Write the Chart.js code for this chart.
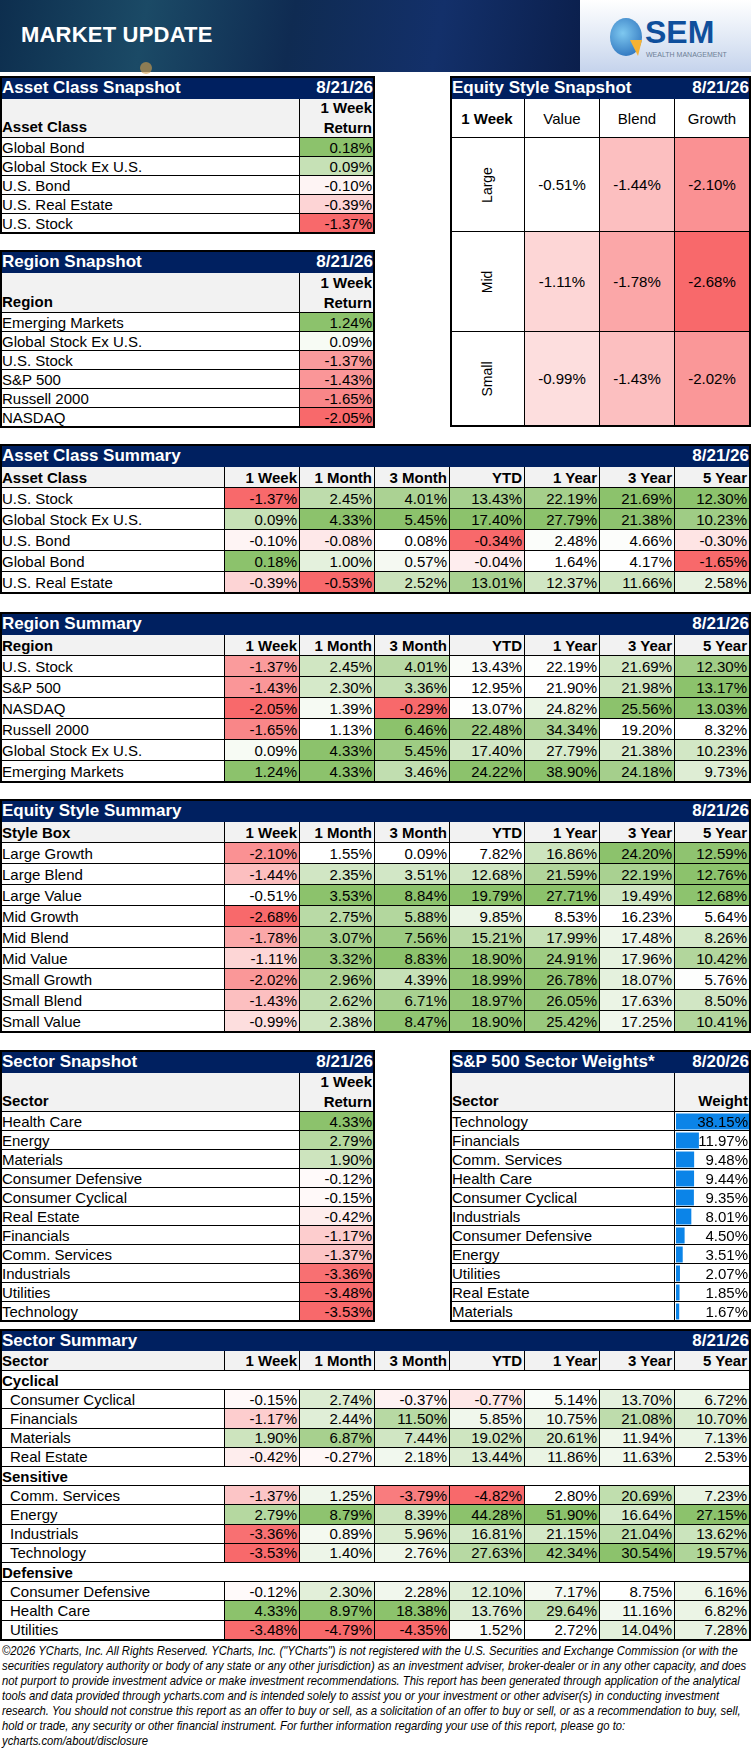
<!DOCTYPE html>
<html>
<head>
<meta charset="utf-8">
<script src="https://cdn.jsdelivr.net/npm/chart.js@4"></script>
<style>
  body { margin:0; width:751px; height:1754px; background:#fff; position:relative; overflow:hidden;
         font-family:"Liberation Sans Narrow","Arial Narrow","Liberation Sans",sans-serif; }
  .c { position:absolute; box-sizing:border-box; font-size:15px; line-height:1; white-space:nowrap;
       display:flex; align-items:center; padding:0 2px; color:#000; overflow:hidden; }
  .r { justify-content:flex-end; }
  .m { justify-content:center; }
  .t { background:#002060; color:#fff; font-weight:bold; font-size:17px; }
  .h { background:#f2f2f2; font-weight:bold; }
  #banner { position:absolute; left:0; top:0; width:580px; height:72px;
            background:linear-gradient(100deg,#0d2e4e 0%,#1b4a66 25%,#0f2b52 50%,#13306a 75%,#0b1f4c 100%); }
  #logo { position:absolute; left:580px; top:0; width:171px; height:72px;
          background:linear-gradient(180deg,#ffffff 0%,#dde6f4 60%,#c5d3ec 100%); }
  #foot { position:absolute; left:2px; top:1643px; transform-origin:0 0; font-size:13.3px; line-height:15px; font-style:italic; color:#000; white-space:nowrap; }
</style>
</head>
<body>
<div id="banner">
  <div style="position:absolute;left:21px;top:22px;color:#fff;font-weight:bold;font-size:22px;letter-spacing:0.2px">MARKET UPDATE</div>
  <div style="position:absolute;left:140px;top:62px;width:12px;height:12px;border-radius:6px;background:#d9a04a;opacity:.6"></div>
</div>
<div id="logo">
  <div style="position:absolute;left:30px;top:18px;width:32px;height:38px;border-radius:50%;background:radial-gradient(circle at 40% 40%,#7ec8f0,#1f64b4)"></div>
  <div style="position:absolute;left:50px;top:40px;width:0;height:0;border-left:8px solid transparent;border-right:4px solid transparent;border-top:16px solid #f6b233"></div>
  <div style="position:absolute;left:65px;top:14px;color:#0f4f9c;font-weight:bold;font-size:32px;font-family:'Liberation Sans',sans-serif">SEM</div>
  <div style="position:absolute;left:66px;top:51px;color:#6d7f96;font-size:7px;font-family:'Liberation Sans',sans-serif">WEALTH MANAGEMENT</div>
</div>

<canvas id="weights" width="73" height="209" style="position:absolute;left:676px;top:1112px;width:73px;height:209px"></canvas>

<div id="foot">©2026 YCharts, Inc. All Rights Reserved. YCharts, Inc. ("YCharts") is not registered with the U.S. Securities and Exchange Commission (or with the<br>securities regulatory authority or body of any state or any other jurisdiction) as an investment adviser, broker-dealer or in any other capacity, and does<br>not purport to provide investment advice or make investment recommendations. This report has been generated through application of the analytical<br>tools and data provided through ycharts.com and is intended solely to assist you or your investment or other adviser(s) in conducting investment<br>research. You should not construe this report as an offer to buy or sell, as a solicitation of an offer to buy or sell, or as a recommendation to buy, sell,<br>hold or trade, any security or other financial instrument. For further information regarding your use of this report, please go to:<br>ycharts.com/about/disclosure</div>

<script>
const periods = ["1 Week", "1 Month", "3 Month", "YTD", "1 Year", "3 Year", "5 Year"];

const assetSnapNames = ["Global Bond", "Global Stock Ex U.S.", "U.S. Bond", "U.S. Real Estate", "U.S. Stock"];
const assetSnapVals = [0.18, 0.09, -0.10, -0.39, -1.37];

const regionSnapNames = ["Emerging Markets", "Global Stock Ex U.S.", "U.S. Stock", "S&P 500", "Russell 2000", "NASDAQ"];
const regionSnapVals = [1.24, 0.09, -1.37, -1.43, -1.65, -2.05];

const styleSizes = ["Large", "Mid", "Small"];
const styleTypes = ["Value", "Blend", "Growth"];
const styleSnapVals = [
  [-0.51, -1.44, -2.10],
  [-1.11, -1.78, -2.68],
  [-0.99, -1.43, -2.02],
];

const assetSumNames = ["U.S. Stock", "Global Stock Ex U.S.", "U.S. Bond", "Global Bond", "U.S. Real Estate"];
const assetSumVals = [
  [-1.37, 2.45, 4.01, 13.43, 22.19, 21.69, 12.30],
  [0.09, 4.33, 5.45, 17.40, 27.79, 21.38, 10.23],
  [-0.10, -0.08, 0.08, -0.34, 2.48, 4.66, -0.30],
  [0.18, 1.00, 0.57, -0.04, 1.64, 4.17, -1.65],
  [-0.39, -0.53, 2.52, 13.01, 12.37, 11.66, 2.58],
];

const regionSumNames = ["U.S. Stock", "S&P 500", "NASDAQ", "Russell 2000", "Global Stock Ex U.S.", "Emerging Markets"];
const regionSumVals = [
  [-1.37, 2.45, 4.01, 13.43, 22.19, 21.69, 12.30],
  [-1.43, 2.30, 3.36, 12.95, 21.90, 21.98, 13.17],
  [-2.05, 1.39, -0.29, 13.07, 24.82, 25.56, 13.03],
  [-1.65, 1.13, 6.46, 22.48, 34.34, 19.20, 8.32],
  [0.09, 4.33, 5.45, 17.40, 27.79, 21.38, 10.23],
  [1.24, 4.33, 3.46, 24.22, 38.90, 24.18, 9.73],
];

const styleSumNames = ["Large Growth", "Large Blend", "Large Value", "Mid Growth", "Mid Blend", "Mid Value", "Small Growth", "Small Blend", "Small Value"];
const styleSumVals = [
  [-2.10, 1.55, 0.09, 7.82, 16.86, 24.20, 12.59],
  [-1.44, 2.35, 3.51, 12.68, 21.59, 22.19, 12.76],
  [-0.51, 3.53, 8.84, 19.79, 27.71, 19.49, 12.68],
  [-2.68, 2.75, 5.88, 9.85, 8.53, 16.23, 5.64],
  [-1.78, 3.07, 7.56, 15.21, 17.99, 17.48, 8.26],
  [-1.11, 3.32, 8.83, 18.90, 24.91, 17.96, 10.42],
  [-2.02, 2.96, 4.39, 18.99, 26.78, 18.07, 5.76],
  [-1.43, 2.62, 6.71, 18.97, 26.05, 17.63, 8.50],
  [-0.99, 2.38, 8.47, 18.90, 25.42, 17.25, 10.41],
];

const sectorSnapNames = ["Health Care", "Energy", "Materials", "Consumer Defensive", "Consumer Cyclical", "Real Estate", "Financials", "Comm. Services", "Industrials", "Utilities", "Technology"];
const sectorSnapVals = [4.33, 2.79, 1.90, -0.12, -0.15, -0.42, -1.17, -1.37, -3.36, -3.48, -3.53];

const weightNames = ["Technology", "Financials", "Comm. Services", "Health Care", "Consumer Cyclical", "Industrials", "Consumer Defensive", "Energy", "Utilities", "Real Estate", "Materials"];
const weightVals = [38.15, 11.97, 9.48, 9.44, 9.35, 8.01, 4.50, 3.51, 2.07, 1.85, 1.67];

const sectorGroups = ["Cyclical", "Sensitive", "Defensive"];
const sectorSumNames = [
  ["Consumer Cyclical", "Financials", "Materials", "Real Estate"],
  ["Comm. Services", "Energy", "Industrials", "Technology"],
  ["Consumer Defensive", "Health Care", "Utilities"],
];
const sectorSumVals = [
  [[-0.15, 2.74, -0.37, -0.77, 5.14, 13.70, 6.72],
   [-1.17, 2.44, 11.50, 5.85, 10.75, 21.08, 10.70],
   [1.90, 6.87, 7.44, 19.02, 20.61, 11.94, 7.13],
   [-0.42, -0.27, 2.18, 13.44, 11.86, 11.63, 2.53]],
  [[-1.37, 1.25, -3.79, -4.82, 2.80, 20.69, 7.23],
   [2.79, 8.79, 8.39, 44.28, 51.90, 16.64, 27.15],
   [-3.36, 0.89, 5.96, 16.81, 21.15, 21.04, 13.62],
   [-3.53, 1.40, 2.76, 27.63, 42.34, 30.54, 19.57]],
  [[-0.12, 2.30, 2.28, 12.10, 7.17, 8.75, 6.16],
   [4.33, 8.97, 18.38, 13.76, 29.64, 11.16, 6.82],
   [-3.48, -4.79, -4.35, 1.52, 2.72, 14.04, 7.28]],
];

const dateMain = "8/21/26";
const dateWeights = "8/20/26";

// colour scale: red at the low end, white at zero (or at the least extreme value), green at the top
const RED = [248, 105, 107], GREEN = [140, 194, 108];
function scaleColor(v, list) {
  const lo = Math.min(...list), hi = Math.max(...list);
  let mid = 0;
  if (lo >= 0) mid = lo;
  if (hi <= 0) mid = hi;
  let c, f;
  if (v >= mid) { f = hi > mid ? (v - mid) / (hi - mid) : 0; c = GREEN; }
  else { f = mid > lo ? (mid - v) / (mid - lo) : 0; c = RED; }
  const mix = c.map(k => Math.round(255 + (k - 255) * f));
  return `rgb(${mix.join(",")})`;
}
const pct = v => v.toFixed(2) + "%";

function cell(x, y, w, h, html, cls, style) {
  const d = document.createElement("div");
  d.className = "c " + (cls || "");
  d.style.cssText = `left:${x}px;top:${y}px;width:${w}px;height:${h}px;` + (style || "");
  d.innerHTML = html;
  document.body.appendChild(d);
  return d;
}
function box(x, y, w, h) {
  cell(x, y, w, h, "", "", "border:2px solid #000;background:transparent;z-index:5;padding:0");
}
const line = "border-bottom:1px solid #000;border-right:1px solid #000;";

// snapshot table (name + one value column)
function snapshot(y, title, head, names, vals, headH, rowH) {
  cell(0, y, 375, 23, title, "t");
  cell(300, y, 75, 23, dateMain, "t r", "z-index:2");
  cell(0, y + 23, 300, headH, head, "h", line + "align-items:flex-end;padding-bottom:3px");
  cell(300, y + 23, 75, headH, "1 Week<br>Return", "h r", line + "line-height:20px;text-align:right");
  let yy = y + 23 + headH;
  names.forEach((n, i) => {
    cell(0, yy, 300, rowH, n, "", line);
    cell(300, yy, 75, rowH, pct(vals[i]), "r", line + "background:" + scaleColor(vals[i], vals));
    yy += rowH;
  });
  box(0, y, 375, yy - y + 1);
}

// summary table (name + seven periods)
function summary(y, title, head, names, vals, rowH) {
  cell(0, y, 751, 23, title, "t");
  cell(600, y, 151, 23, dateMain, "t r", "z-index:2");
  cell(0, y + 23, 225, 21, head, "h", line);
  periods.forEach((p, j) => cell(225 + j * 75, y + 23, 75, 21, p, "h r", line));
  let yy = y + 44;
  names.forEach((n, i) => {
    cell(0, yy, 225, rowH, n, "", line);
    periods.forEach((p, j) => {
      const col = vals.map(r => r[j]);
      cell(225 + j * 75, yy, 75, rowH, pct(vals[i][j]), "r", line + "background:" + scaleColor(vals[i][j], col));
    });
    yy += rowH;
  });
  box(0, y, 751, yy - y + 1);
}

snapshot(76, "Asset Class Snapshot", "Asset Class", assetSnapNames, assetSnapVals, 39, 19);
snapshot(250, "Region Snapshot", "Region", regionSnapNames, regionSnapVals, 40, 19);

// equity style snapshot grid
(function () {
  const x0 = 450, y0 = 76;
  cell(x0, y0, 301, 23, "Equity Style Snapshot", "t");
  cell(x0 + 225, y0, 76, 23, dateMain, "t r", "z-index:2");
  cell(x0, y0 + 23, 75, 39, "1 Week", "m", line + "font-weight:bold");
  styleTypes.forEach((t, j) => cell(x0 + 75 + j * 75, y0 + 23, 75, 39, t, "m", line));
  const all = styleSnapVals.flat();
  const rowH = [94, 100, 94];
  let yy = y0 + 62;
  styleSizes.forEach((s, i) => {
    cell(x0, yy, 75, rowH[i], `<span style="transform:rotate(-90deg);display:inline-block">${s}</span>`, "m", line + "font-family:'Liberation Sans',sans-serif;font-size:14px");
    styleTypes.forEach((t, j) => {
      const v = styleSnapVals[i][j];
      cell(x0 + 75 + j * 75, yy, 75, rowH[i], pct(v), "m", line + "background:" + scaleColor(v, all));
    });
    yy += rowH[i];
  });
  box(x0, y0, 301, yy - y0 + 1);
})();

summary(444, "Asset Class Summary", "Asset Class", assetSumNames, assetSumVals, 21);
summary(612, "Region Summary", "Region", regionSumNames, regionSumVals, 21);
summary(799, "Equity Style Summary", "Style Box", styleSumNames, styleSumVals, 21);

snapshot(1050, "Sector Snapshot", "Sector", sectorSnapNames, sectorSnapVals, 39, 19);

// sector weights table; bars drawn by Chart.js underneath the text
(function () {
  const x0 = 450, y0 = 1050;
  cell(x0, y0, 301, 23, "S&amp;P 500 Sector Weights*", "t");
  cell(x0 + 225, y0, 76, 23, dateWeights, "t r", "z-index:2");
  cell(x0, y0 + 23, 225, 39, "Sector", "h", line + "align-items:flex-end;padding-bottom:3px");
  cell(x0 + 225, y0 + 23, 76, 39, "Weight", "h r", line + "align-items:flex-end;padding-bottom:3px");
  let yy = y0 + 62;
  weightNames.forEach((n, i) => {
    cell(x0, yy, 225, 19, n, "", line);
    cell(x0 + 225, yy, 76, 19, pct(weightVals[i]), "r", line + "background:transparent;z-index:3");
    yy += 19;
  });
  box(x0, y0, 301, yy - y0 + 1);
})();

// sector summary with group rows
(function () {
  const y = 1329, rowH = 19.2;
  cell(0, y, 751, 22, "Sector Summary", "t");
  cell(600, y, 151, 22, dateMain, "t r", "z-index:2");
  cell(0, y + 22, 225, 20, "Sector", "h", line);
  periods.forEach((p, j) => cell(225 + j * 75, y + 22, 75, 20, p, "h r", line));
  const allRows = sectorSumVals.flat();
  let yy = y + 42;
  sectorGroups.forEach((g, gi) => {
    cell(0, yy, 751, rowH, g, "", "border-bottom:1px solid #000;font-weight:bold");
    yy += rowH;
    sectorSumNames[gi].forEach((n, i) => {
      cell(0, yy, 225, rowH, n, "", line + "padding-left:10px");
      periods.forEach((p, j) => {
        const v = sectorSumVals[gi][i][j];
        cell(225 + j * 75, yy, 75, rowH, pct(v), "r", line + "background:" + scaleColor(v, allRows.map(r => r[j])));
      });
      yy += rowH;
    });
  });
  box(0, y, 751, yy - y + 1);
})();

// squeeze the disclaimer so its lines keep the reference's breaks
const foot = document.getElementById("foot");
foot.style.transform = `scaleX(${Math.min(1, 744 / foot.scrollWidth)})`;

new Chart(document.getElementById("weights"), {
  type: "bar",
  data: {
    labels: weightNames,
    datasets: [{ data: weightVals, backgroundColor: "#0b84e8", borderWidth: 0,
                 categoryPercentage: 1, barPercentage: 0.84 }],
  },
  options: {
    indexAxis: "y",
    responsive: false,
    animation: false,
    layout: { padding: 0 },
    plugins: { legend: { display: false }, tooltip: { enabled: false } },
    scales: {
      x: { display: false, min: 0, max: Math.max(...weightVals) },
      y: { display: false },
    },
  },
});
</script>
</body>
</html>
